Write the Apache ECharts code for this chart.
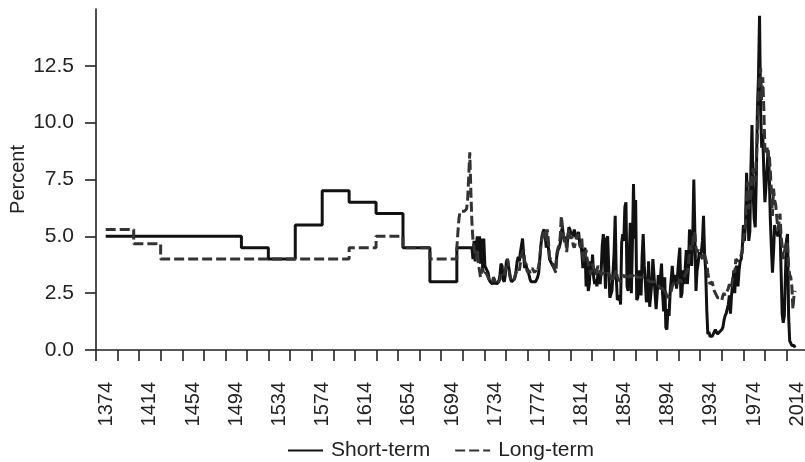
<!DOCTYPE html>
<html><head><meta charset="utf-8">
<script src="https://cdn.jsdelivr.net/npm/echarts@6/dist/echarts.min.js"></script>
<style>html,body{margin:0;padding:0;background:#fff}#c{width:805px;height:462px}</style>
</head><body><div id="c"></div>
<script>
// x-axis bands (20 years each), labels shown on every other band
const bandLabels = ['1374','1394','1414','1434','1454','1474','1494','1514','1534','1554','1574','1594','1614','1634','1654','1674','1694','1714','1734','1754','1774','1794','1814','1834','1854','1874','1894','1914','1934','1954','1974','1994','2014'];
const yTickValues = [0, 2.5, 5, 7.5, 10, 12.5];

// early period rates (constant within each period)
const periodBounds = [1374, 1400, 1425, 1500, 1525, 1550, 1575, 1600, 1625, 1650, 1675, 1700];
const periodShort = [5.0, 5.0, 5.0, 4.5, 4.0, 5.5, 7.0, 6.5, 6.0, 4.5, 3.0];
const periodLong  = [5.3, 4.67, 4.0, 4.0, 4.0, 4.0, 4.0, 4.5, 5.0, 4.5, 4.0];

// annual rates from 1700 to 2014
const annualStart = 1700;
const shortAnnual = [
4.5,4.5,4.5,4.5,4.5,4.5,4.5,4.5,4.5,4.5,
4.5,4.5,4.5,4.5,4.5,4.0,4.8,3.9,4.6,5.0,
4.3,5.0,3.8,4.9,3.6,4.9,3.7,3.6,3.5,3.4,
3.1,3.0,3.0,2.9,3.0,2.9,3.0,2.9,2.95,3.0,
3.3,3.8,3.7,3.1,3.0,3.3,3.9,4.0,4.0,3.4,
3.1,3.0,3.0,3.1,3.2,3.5,3.9,4.1,3.9,4.3,
4.6,4.9,4.2,3.6,3.8,3.6,3.5,3.3,3.1,3.0,
3.0,3.0,3.0,3.0,3.1,3.2,3.4,4.0,4.6,5.0,
5.2,5.3,5.0,4.5,4.9,4.5,4.0,3.9,3.8,3.7,
3.7,3.7,3.8,4.2,4.4,4.5,4.7,5.2,5.4,5.0,
4.8,5.0,4.5,4.9,5.4,5.3,5.1,5.2,5.0,5.3,
5.3,4.9,5.0,5.2,4.7,4.8,4.3,3.6,4.3,4.5,
2.8,3.9,2.6,2.9,3.9,3.4,4.2,3.2,2.9,3.1,
2.8,3.4,3.2,2.9,3.5,4.6,5.1,4.0,2.7,4.9,
5.0,3.6,2.3,2.3,2.6,3.4,4.3,5.9,3.2,2.2,
2.2,2.4,2.0,4.7,5.1,4.8,6.3,6.5,2.8,2.6,
4.1,5.6,2.5,4.7,7.3,4.9,6.6,2.2,2.3,3.5,
3.0,2.4,4.1,5.1,3.7,3.0,2.1,2.3,3.9,1.9,
2.4,3.0,4.0,3.3,2.5,1.8,2.5,3.3,2.7,3.2,
3.8,2.5,1.7,3.2,1.0,0.9,1.8,1.5,2.5,3.1,
3.7,3.0,2.9,3.3,2.7,2.7,4.0,4.5,2.3,2.5,
3.5,2.9,3.6,4.4,2.9,3.6,5.3,5.0,3.7,5.0,
7.5,5.1,2.6,3.5,3.8,4.3,4.1,4.3,4.8,5.9,
4.2,3.5,1.8,0.7,0.8,0.6,0.6,0.6,0.6,0.8,
0.9,0.9,0.7,0.7,0.8,0.8,0.9,1.0,1.3,1.5,
1.6,1.8,2.0,2.4,1.6,2.4,2.9,3.4,2.5,3.6,
3.7,2.8,3.5,3.9,4.0,4.5,5.5,4.8,5.6,7.8,
6.5,4.8,5.2,8.0,9.9,7.0,5.8,5.4,7.5,10.5,
12.0,14.7,10.5,8.9,9.5,7.8,6.5,7.2,8.0,8.8,
7.8,5.8,4.5,3.4,4.3,5.5,5.1,5.2,5.0,5.3,
5.4,3.5,1.6,1.2,1.5,3.2,4.8,5.1,1.5,0.4,
0.3,0.2,0.2,0.2,0.1];
const longAnnual = [
4.5,5.2,5.8,6.1,6.1,6.1,6.1,6.1,6.1,6.2,
6.6,7.6,8.7,7.0,5.6,4.8,4.5,4.2,4.0,4.4,
3.8,3.5,3.2,3.4,3.6,3.3,3.3,3.4,3.3,3.2,
3.1,3.0,3.0,3.0,3.2,3.1,2.9,2.9,3.0,3.0,
3.1,3.3,3.3,3.2,3.3,3.5,3.7,4.0,3.7,3.3,
3.1,3.0,3.0,3.1,3.1,3.4,3.5,3.6,3.5,3.8,
4.2,4.2,4.4,3.9,3.8,3.5,3.4,3.5,3.4,3.5,
3.6,3.6,3.4,3.5,3.4,3.5,3.7,4.0,4.6,4.9,
5.1,5.3,5.2,4.8,5.3,4.8,4.1,4.0,3.9,3.8,
3.6,3.6,3.4,4.3,4.5,4.6,5.0,5.9,5.9,5.0,
4.7,4.9,4.3,5.0,5.3,5.0,4.9,5.0,4.6,4.5,
4.7,4.7,5.1,4.9,4.6,4.5,4.9,4.1,3.9,4.2,
4.4,4.0,3.8,3.8,3.3,3.5,3.8,3.6,3.5,3.3,
3.5,3.7,3.6,3.4,3.3,3.3,3.4,3.3,3.3,3.3,
3.4,3.4,3.3,3.2,3.0,3.1,3.1,3.4,3.5,3.2,
3.1,3.1,3.0,3.1,3.3,3.3,3.2,3.3,3.1,3.2,
3.2,3.3,3.2,3.2,3.3,3.4,3.4,3.2,3.2,3.2,
3.2,3.2,3.2,3.2,3.2,3.2,3.2,3.1,3.1,3.0,
3.0,3.0,3.0,3.0,3.0,3.0,2.9,2.9,2.8,2.7,
2.7,2.7,2.6,2.7,2.5,2.4,2.3,2.3,2.4,2.6,
2.8,2.9,2.9,3.0,2.9,2.9,3.0,3.1,3.0,3.0,
3.1,3.2,3.3,3.4,3.5,3.8,4.3,4.6,4.4,4.7,
5.2,5.1,4.5,4.3,4.4,4.4,4.2,4.1,4.0,4.3,
4.2,4.0,3.8,3.4,3.1,2.9,2.9,3.0,2.8,2.6,
2.5,2.4,2.3,2.3,2.3,2.3,2.2,2.4,2.5,2.4,
2.4,2.6,2.7,2.9,2.7,2.8,3.1,3.5,3.4,4.0,
4.0,3.9,3.9,4.0,4.2,4.3,4.9,5.1,5.6,6.7,
7.4,6.2,6.2,6.8,7.6,8.0,7.6,7.4,8.4,9.4,
11.4,12.0,12.4,11.0,12.0,10.6,8.8,8.7,8.9,8.5,
8.6,7.9,7.0,5.9,7.1,6.6,6.4,6.4,5.3,5.6,
6.0,5.0,4.6,4.0,4.3,4.3,4.8,4.6,3.7,3.3,
3.2,2.8,1.8,2.4,2.6];

function buildSeries(periodVals, annual) {
  const out = [];
  for (let i = 0; i < periodVals.length; i++) {
    out.push([periodBounds[i], periodVals[i]]);
    out.push([periodBounds[i + 1], periodVals[i]]);
  }
  annual.forEach((v, j) => out.push([annualStart + j, v]));
  return out;
}

const FONT = 'Liberation Sans, Arial, Helvetica, sans-serif';
const INK = '#222';
const chart = echarts.init(document.getElementById('c'), null, {renderer: 'canvas'});
chart.setOption({
  animation: false,
  backgroundColor: '#fff',
  textStyle: {fontFamily: FONT},
  grid: {left: 96, top: 9, width: 712, height: 341, containLabel: false, outerBoundsMode: 'none'},
  xAxis: [
    {
      type: 'category', data: bandLabels, boundaryGap: true, position: 'bottom',
      axisLine: {show: true, onZero: false, lineStyle: {color: INK, width: 1.6}},
      axisTick: {show: true, interval: 0, length: 11, lineStyle: {color: INK, width: 1.6}},
      axisLabel: {interval: 1, rotate: 90, margin: 32, fontSize: 20, color: INK, fontFamily: FONT},
      splitLine: {show: false}
    },
    {type: 'value', min: 1365, max: 2026, show: false}
  ],
  yAxis: {
    type: 'value', min: 0, max: 15,
    name: 'Percent', nameLocation: 'middle', nameGap: 68, nameMoveOverlap: false,
    nameTextStyle: {fontSize: 20, color: INK, fontFamily: FONT},
    axisLine: {show: true, lineStyle: {color: INK, width: 1.6}},
    axisTick: {show: true, length: 11, customValues: yTickValues, lineStyle: {color: INK, width: 1.6}},
    axisLabel: {customValues: yTickValues, formatter: v => v.toFixed(1), margin: 22, fontSize: 21, color: INK, fontFamily: FONT},
    splitLine: {show: false}
  },
  legend: {
    data: ['Short-term', 'Long-term'],
    left: 282, top: 435, itemWidth: 35, itemHeight: 22, itemGap: 24,
    itemStyle: {color: 'rgba(0,0,0,0)', borderColor: 'rgba(0,0,0,0)', borderWidth: 0, opacity: 0},
    textStyle: {fontSize: 21, color: INK, fontFamily: FONT, padding: [0, 0, 0, 3]}
  },
  series: [
    {
      name: 'Short-term', type: 'line', xAxisIndex: 1, data: buildSeries(periodShort, shortAnnual),
      symbol: 'none', lineStyle: {color: '#111', width: 3}, itemStyle: {color: '#111'}, z: 2
    },
    {
      name: 'Long-term', type: 'line', xAxisIndex: 1, data: buildSeries(periodLong, longAnnual),
      symbol: 'none', lineStyle: {color: '#333', width: 3, type: [10, 4]}, itemStyle: {color: '#333'}, z: 3
    }
  ]
});
</script></body></html>
